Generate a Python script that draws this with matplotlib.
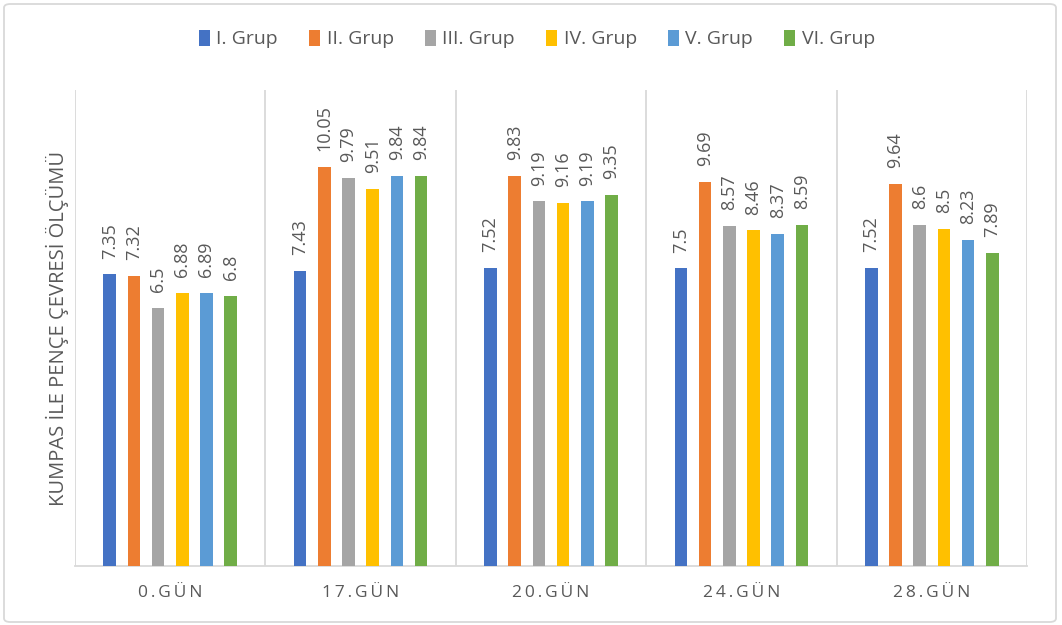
import numpy as np
import matplotlib.pyplot as plt
from matplotlib.patches import FancyBboxPatch

plt.rcParams['font.family'] = ['Open Sans', 'DejaVu Sans']

days = ['0.GÜN', '17.GÜN', '20.GÜN', '24.GÜN', '28.GÜN']
groups = ['I. Grup', 'II. Grup', 'III. Grup', 'IV. Grup', 'V. Grup', 'VI. Grup']
colors = ['#4472c4', '#ed7d31', '#a5a5a5', '#ffc000', '#5b9bd5', '#70ad47']

grup1 = [7.35, 7.43, 7.52, 7.5, 7.52]
grup2 = [7.32, 10.05, 9.83, 9.69, 9.64]
grup3 = [6.5, 9.79, 9.19, 8.57, 8.6]
grup4 = [6.88, 9.51, 9.16, 8.46, 8.5]
grup5 = [6.89, 9.84, 9.19, 8.37, 8.23]
grup6 = [6.8, 9.84, 9.35, 8.59, 7.89]
series = [grup1, grup2, grup3, grup4, grup5, grup6]

txt = '#595959'
grid = '#d9d9d9'

fig = plt.figure(figsize=(10.62, 6.25), dpi=100)
ax = fig.add_axes([75/1062, 59/625, 952/1062, 476/625])

x = np.arange(len(days))
step = 0.127
width = 0.066
for i, vals in enumerate(series):
    pos = x + (i - 2.5) * step
    bars = ax.bar(pos, vals, width, color=colors[i], label=groups[i], zorder=3)
    for b, v in zip(bars, vals):
        ax.text(b.get_x() + b.get_width()/2, v + 0.4, '%g' % v, rotation=90,
                ha='center', va='bottom', fontsize=13, color=txt)

for b in np.arange(-0.5, len(days), 1):
    ax.axvline(b, color=grid, lw=1.3, zorder=1)

ax.set_xlim(-0.5, len(days) - 0.5)
ax.set_ylim(0, 12)
ax.set_yticks([])
for s in ['top', 'right', 'left']:
    ax.spines[s].set_visible(False)
ax.spines['bottom'].set_color(grid)
ax.spines['bottom'].set_linewidth(1.3)
ax.set_xticks(x)
ax.set_xticklabels(['\u2009'.join(d) for d in days], fontsize=12.5, color=txt)
ax.tick_params(axis='x', length=0, pad=14)
ax.set_ylabel('KUMPAS İLE PENÇE ÇEVRESİ ÖLÇÜMÜ', fontsize=14.5, color=txt, labelpad=4)

leg = fig.legend(loc='center', bbox_to_anchor=(537/1062, 1 - 39/625), ncol=6,
                 frameon=False, fontsize=14, handlelength=0.55, handleheight=0.9,
                 handletextpad=0.35, columnspacing=1.6)
for t in leg.get_texts():
    t.set_color(txt)

fig.patches.append(FancyBboxPatch((4/1062, 3/625), 1052/1062, 618/625,
                                  boxstyle='round,pad=0,rounding_size=0.006',
                                  transform=fig.transFigure, fill=False,
                                  edgecolor=grid, lw=1.3))

fig.savefig('out.png', dpi=100)
